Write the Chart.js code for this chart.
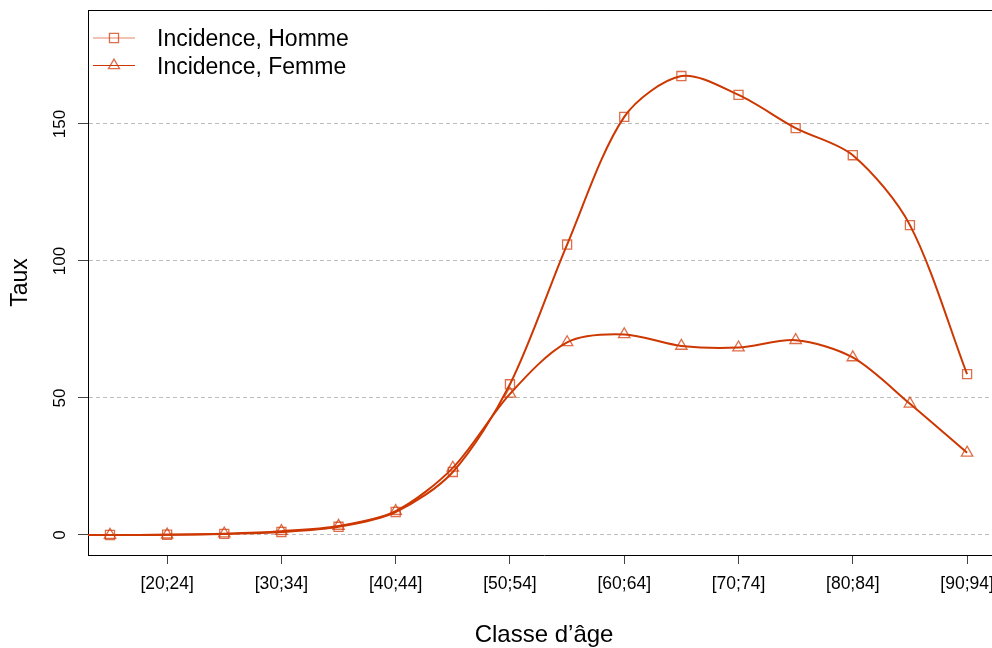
<!DOCTYPE html>
<html>
<head>
<meta charset="utf-8">
<script src="https://cdn.jsdelivr.net/npm/chart.js@4/dist/chart.umd.min.js"></script>
<style>
  html, body { margin: 0; padding: 0; background: #fff; overflow: hidden; }
  #c { position: absolute; left: 0; top: 0; display: block; }
</style>
</head>
<body>
<canvas id="c" width="1008" height="648" style="width:1008px;height:648px"></canvas>
<script>
// ---- data ----
const categories = ['[10;14]','[15;19]','[20;24]','[25;29]','[30;34]','[35;39]','[40;44]','[45;49]','[50;54]','[55;59]','[60;64]','[65;69]','[70;74]','[75;79]','[80;84]','[85;89]','[90;94]'];
const incidenceHomme = [0, 0, 0.1, 0.4, 1.1, 3.0, 8.4, 23, 55, 106, 152.6, 167.5, 160.6, 148.5, 138.6, 113.1, 58.7];
const incidenceFemme = [0, 0, 0.1, 0.5, 1.4, 3.3, 8.7, 24.5, 51.5, 70.3, 73.2, 69, 68.4, 71.1, 64.8, 47.9, 30];
const seriesNames = ['Incidence, Homme', 'Incidence, Femme'];
const xTickLabels = ['[20;24]','[30;34]','[40;44]','[50;54]','[60;64]','[70;74]','[80;84]','[90;94]'];
const yTicks = [0, 50, 100, 150];
const xTitle = 'Classe d\u2019\u00e2ge';
const yTitle = 'Taux';

// ---- styles ----
const FONT = "'Liberation Sans', Helvetica, Arial, sans-serif";
const LINE = 'rgb(205,55,0)';
const MARK = 'rgba(210,62,12,0.75)';

const toXY = arr => arr.map((v, i) => ({ x: i, y: v }));
const hideFirst = r => ctx => (ctx.dataIndex === 0 ? 0 : r);

const topBorder = {
  id: 'topBorder',
  afterDraw(chart) {
    const { ctx, chartArea: a } = chart;
    ctx.save();
    ctx.strokeStyle = '#000';
    ctx.lineWidth = 1;
    ctx.beginPath();
    ctx.moveTo(a.left, a.top + 0.5);
    ctx.lineTo(a.right, a.top + 0.5);
    ctx.stroke();
    ctx.restore();
  }
};

const legendPlugin = {
  id: 'customLegend',
  afterDraw(chart) {
    const { ctx } = chart;
    const items = [
      { text: seriesNames[0], style: 'rect', lineColor: 'rgba(215,70,20,0.65)', y: 38 },
      { text: seriesNames[1], style: 'triangle', lineColor: LINE, y: 65.5 }
    ];
    ctx.save();
    items.forEach(it => {
      ctx.strokeStyle = it.lineColor;
      ctx.lineWidth = 1.2;
      ctx.beginPath();
      ctx.moveTo(93, it.y);
      ctx.lineTo(135, it.y);
      ctx.stroke();
      ctx.fillStyle = 'rgba(0,0,0,0)';
      ctx.strokeStyle = MARK;
      ctx.lineWidth = 1.3;
      Chart.helpers.drawPoint(ctx, { pointStyle: it.style, radius: 6.4, borderWidth: 1.3, rotation: 0 }, 114, it.y);
      ctx.fillStyle = '#000';
      ctx.font = '23px ' + FONT;
      ctx.textBaseline = 'middle';
      ctx.textAlign = 'left';
      ctx.fillText(it.text, 157, it.y + 2);
    });
    ctx.restore();
  }
};

new Chart(document.getElementById('c'), {
  type: 'line',
  data: {
    datasets: [
      {
        label: seriesNames[0],
        data: toXY(incidenceHomme),
        borderColor: LINE,
        borderWidth: 2,
        tension: 0.3,
        pointStyle: 'rect',
        pointRadius: hideFirst(6.4),
        pointHoverRadius: hideFirst(6.4),
        pointBorderColor: MARK,
        pointBackgroundColor: 'rgba(0,0,0,0)',
        pointBorderWidth: 1.3
      },
      {
        label: seriesNames[1],
        data: toXY(incidenceFemme),
        borderColor: LINE,
        borderWidth: 2,
        tension: 0.3,
        pointStyle: 'triangle',
        pointRadius: hideFirst(6.6),
        pointHoverRadius: hideFirst(6.6),
        pointBorderColor: MARK,
        pointBackgroundColor: 'rgba(0,0,0,0)',
        pointBorderWidth: 1.3
      }
    ]
  },
  options: {
    responsive: false,
    maintainAspectRatio: false,
    devicePixelRatio: 1,
    animation: false,
    events: [],
    layout: { padding: { top: 10, left: 0, right: 0, bottom: 0 } },
    plugins: { legend: { display: false }, tooltip: { enabled: false } },
    scales: {
      x: {
        type: 'linear',
        min: 0.615,
        max: 16.578,
        afterBuildTicks: s => { s.ticks = xTickLabels.map(l => ({ value: categories.indexOf(l) })); },
        afterFit: s => { s.height = 93; s.paddingLeft = 0; s.paddingRight = 0; },
        ticks: {
          autoSkip: false,
          maxRotation: 0,
          minRotation: 0,
          padding: 10,
          color: '#000',
          font: { family: FONT, size: 17.5 },
          callback: v => categories[v]
        },
        grid: {
          drawOnChartArea: false,
          drawTicks: true,
          tickLength: 9,
          tickColor: '#444',
          tickWidth: 1
        },
        border: { display: true, color: '#000', width: 1 },
        title: {
          display: true,
          text: xTitle,
          color: '#000',
          font: { family: FONT, size: 24 },
          padding: { top: 0, bottom: -2 }
        }
      },
      y: {
        type: 'linear',
        min: -7.3,
        max: 191.6,
        afterBuildTicks: s => { s.ticks = yTicks.map(v => ({ value: v })); },
        afterFit: s => { s.width = 88; s.paddingTop = 0; s.paddingBottom = 0; },
        ticks: {
          minRotation: 90,
          maxRotation: 90,
          crossAlign: 'center',
          padding: 4,
          color: '#000',
          font: { family: FONT, size: 17 }
        },
        grid: {
          drawOnChartArea: true,
          color: '#bdbdbd',
          lineWidth: 1,
          tickLength: 10,
          tickColor: '#444',
          tickWidth: 1,
          tickBorderDash: []
        },
        border: { display: true, color: '#000', width: 1, dash: [4, 3] },
        title: {
          display: true,
          text: yTitle,
          color: '#000',
          font: { family: FONT, size: 23 },
          padding: { top: 7, bottom: 0 }
        }
      }
    }
  },
  plugins: [topBorder, legendPlugin]
});
</script>
</body>
</html>
